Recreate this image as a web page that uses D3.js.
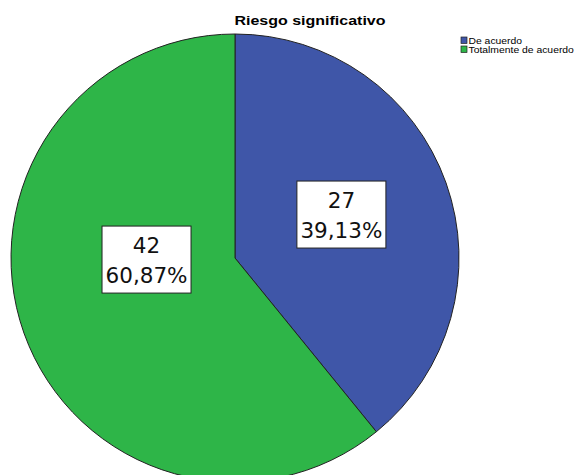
<!DOCTYPE html>
<html><head><meta charset="utf-8">
<script src="https://cdn.jsdelivr.net/npm/d3@7"></script>
<style>body{margin:0;background:#fff}svg{display:block}</style>
</head><body>
<script>
const categories = ["De acuerdo", "Totalmente de acuerdo"];
const counts = [27, 42];
const percentLabels = ["39,13%", "60,87%"];
const colors = ["#3f56a8", "#2eb548"];
const title = "Riesgo significativo";

// layout (label box centre as fraction of radius, relative to pie centre)
const labelOffsets = [[0.475, -0.194], [-0.395, 0.007]];

const W = 579, H = 475;
const svg = d3.select("body").append("svg").attr("width", W).attr("height", H);
const cx = 235, cy = 258, R = 224;

const pie = d3.pie().sort(null).value(d => d)(counts);
const arc = d3.arc().innerRadius(0).outerRadius(R);
const g = svg.append("g").attr("transform", `translate(${cx},${cy})`);
g.selectAll("path").data(pie).join("path")
  .attr("d", arc).attr("fill", (d, i) => colors[i])
  .attr("stroke", "#222").attr("stroke-width", 1);

const lbl = g.selectAll("g.lbl").data(pie).join("g").attr("class", "lbl")
  .attr("transform", (d, i) => `translate(${labelOffsets[i][0] * R},${labelOffsets[i][1] * R})`);
lbl.append("rect").attr("x", -44.5).attr("y", -33.5).attr("width", 89).attr("height", 67)
  .attr("fill", "#fff").attr("stroke", "#222").attr("stroke-width", 1);
lbl.append("text").attr("text-anchor", "middle").attr("y", -7)
  .style("font-family", "DejaVu Sans, sans-serif").style("font-size", "21.5px").attr("fill", "#111")
  .text((d, i) => counts[i]);
lbl.append("text").attr("text-anchor", "middle").attr("y", 23)
  .style("font-family", "DejaVu Sans, sans-serif").style("font-size", "21.5px").attr("fill", "#111")
  .text((d, i) => percentLabels[i]);

svg.append("text").attr("transform", "translate(310,25) scale(1.28,1)").attr("text-anchor", "middle")
  .style("font-family", "Liberation Sans, Arial, sans-serif").style("font-weight", "bold").style("font-size", "12.5px")
  .text(title);

const leg = svg.append("g").attr("transform", "translate(461,37)");
categories.forEach((c, i) => {
  leg.append("rect").attr("x", 0).attr("y", i * 9).attr("width", 6).attr("height", 6.5)
    .attr("fill", colors[i]).attr("stroke", "#222").attr("stroke-width", 0.7);
  leg.append("text").attr("transform", `translate(7.5,${i * 9 + 6.7}) scale(1.22,1)`)
    .style("font-family", "Liberation Sans, Arial, sans-serif").style("font-size", "8.5px").text(c);
});
</script>
</body></html>
